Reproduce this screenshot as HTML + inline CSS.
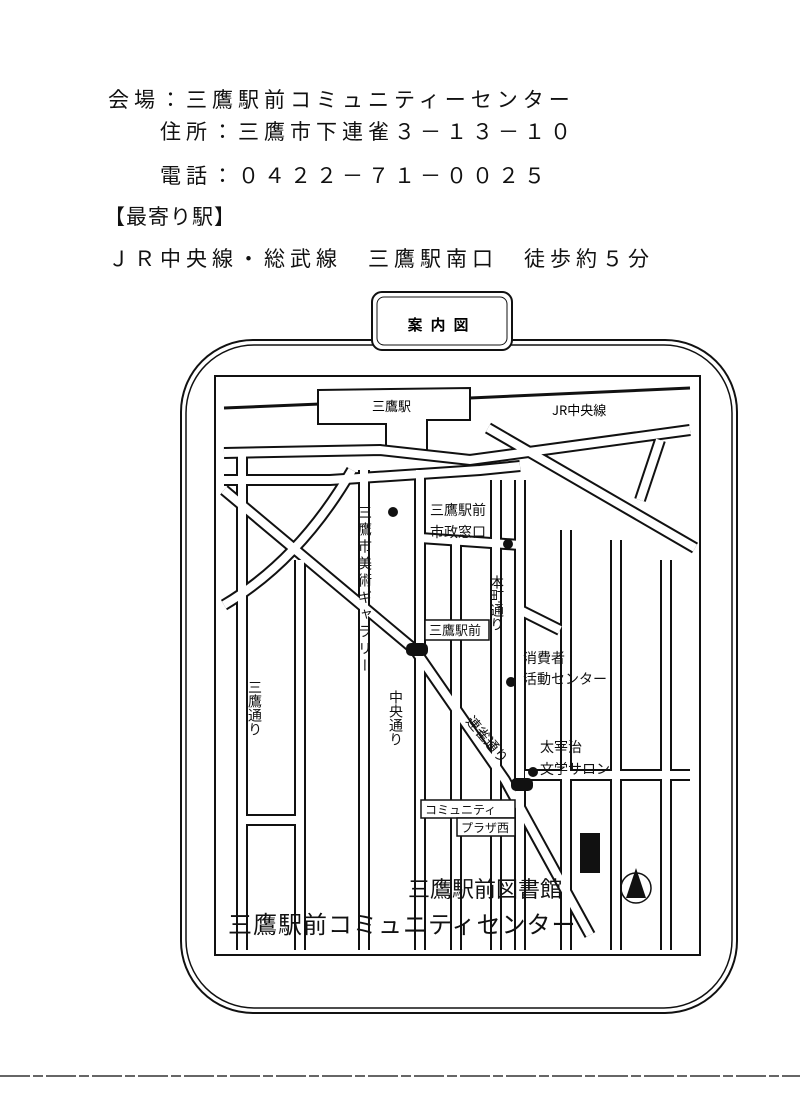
<!DOCTYPE html>
<html><head><meta charset="utf-8"><style>
html,body{margin:0;padding:0;background:#fff;}
body{width:800px;height:1100px;position:relative;overflow:hidden;font-family:"Liberation Sans","Noto Sans CJK JP",sans-serif;color:#111;}
.t{position:absolute;font-size:21px;white-space:nowrap;letter-spacing:5px;}
</style></head><body>
<div class="t" style="left:108px;top:84px;letter-spacing:5px;">会場：三鷹駅前コミュニティーセンター</div>
<div class="t" style="left:160px;top:116px;">住所：三鷹市下連雀３－１３－１０</div>
<div class="t" style="left:160px;top:160px;">電話：０４２２－７１－００２５</div>
<div class="t" style="left:104px;top:201px;letter-spacing:1px;">【最寄り駅】</div>
<div class="t" style="left:108px;top:243px;">ＪＲ中央線・総武線　三鷹駅南口　徒歩約５分</div>
<svg width="800" height="1100" style="position:absolute;left:0;top:0" xmlns="http://www.w3.org/2000/svg">
<rect x="181" y="340" width="556" height="673" rx="72" fill="none" stroke="#111" stroke-width="2"/>
<rect x="186" y="345" width="546" height="663" rx="68" fill="none" stroke="#111" stroke-width="1.5"/>
<rect x="372" y="292" width="140" height="58" rx="10" fill="#fff" stroke="#111" stroke-width="2"/>
<rect x="377" y="297" width="130" height="48" rx="7" fill="none" stroke="#111" stroke-width="1"/>
<text x="442" y="330" font-size="15" font-weight="bold" text-anchor="middle" font-family="Noto Sans CJK JP,sans-serif" letter-spacing="8">案内図</text>
<rect x="215" y="376" width="485" height="579" fill="none" stroke="#111" stroke-width="2"/>
<line x1="224" y1="408" x2="320" y2="404" stroke="#111" stroke-width="3"/>
<line x1="470" y1="398" x2="690" y2="388" stroke="#111" stroke-width="3"/>
<path d="M318 390 L470 388 L470 420 L427 420 L427 455 L386 455 L386 424 L318 424 Z" fill="#fff" stroke="#111" stroke-width="2"/>
<text x="372" y="411" font-size="13" font-family="Noto Sans CJK JP,sans-serif">三鷹駅</text>
<text x="552" y="415" font-size="13" font-family="Noto Sans CJK JP,sans-serif">JR中央線</text>
<g fill="none" stroke-linecap="butt">
<g stroke="#111" stroke-width="12">
<path d="M224 453 L380 450 L470 460 L690 430"/>
<path d="M224 480 L330 480 L480 470 L520 466"/>
<path d="M488 428 L695 548"/>
<path d="M224 490 L415 650 L505 780 L590 935"/>
<path d="M352 470 Q300 560 224 605"/>
<path d="M242 455 L242 950"/><path d="M300 560 L300 950"/><path d="M364 470 L364 950"/>
<path d="M420 470 L420 950"/><path d="M456 540 L456 950"/><path d="M496 480 L496 950"/>
<path d="M520 480 L520 950"/><path d="M566 530 L566 950"/><path d="M616 540 L616 950"/>
<path d="M666 560 L666 950"/><path d="M420 538 L520 545"/><path d="M520 610 L560 630"/>
<path d="M525 775 L690 775"/><path d="M242 820 L300 820"/><path d="M660 440 L640 500"/>
</g>
<g stroke="#fff" stroke-width="8">
<path d="M224 453 L380 450 L470 460 L690 430"/>
<path d="M224 480 L330 480 L480 470 L520 466"/>
<path d="M488 428 L695 548"/>
<path d="M224 490 L415 650 L505 780 L590 935"/>
<path d="M352 470 Q300 560 224 605"/>
<path d="M242 455 L242 950"/><path d="M300 560 L300 950"/><path d="M364 470 L364 950"/>
<path d="M420 470 L420 950"/><path d="M456 540 L456 950"/><path d="M496 480 L496 950"/>
<path d="M520 480 L520 950"/><path d="M566 530 L566 950"/><path d="M616 540 L616 950"/>
<path d="M666 560 L666 950"/><path d="M420 538 L520 545"/><path d="M520 610 L560 630"/>
<path d="M525 775 L690 775"/><path d="M242 820 L300 820"/><path d="M660 440 L640 500"/>
</g>
</g>
<g font-family="Noto Sans CJK JP,sans-serif" font-size="14" fill="#111">
<text x="365" y="505" writing-mode="tb" letter-spacing="3">三鷹市美術ギャラリー</text>
<circle cx="393" cy="512" r="5"/>
<text x="430" y="515">三鷹駅前</text><text x="430" y="537">市政窓口</text>
<circle cx="508" cy="544" r="5"/>
<text x="497" y="575" writing-mode="tb">本町通り</text>
<rect x="425" y="620" width="64" height="20" fill="#fff" stroke="#111" stroke-width="1.5"/>
<text x="429" y="635" font-size="13">三鷹駅前</text>
<rect x="406" y="643" width="22" height="13" rx="5" fill="#111"/>
<text x="523" y="663">消費者</text><text x="523" y="684">活動センター</text>
<circle cx="511" cy="682" r="5"/>
<text x="255" y="680" writing-mode="tb">三鷹通り</text>
<text x="396" y="690" writing-mode="tb">中央通り</text>
<text x="445" y="735" transform="rotate(50 470 750)">連雀通り</text>
<text x="540" y="752">太宰治</text><text x="540" y="774">文学サロン</text>
<circle cx="533" cy="772" r="5"/>
<rect x="511" y="778" width="22" height="13" rx="5" fill="#111"/>
<rect x="421" y="800" width="94" height="18" fill="#fff" stroke="#111" stroke-width="1.5"/>
<rect x="457" y="818" width="58" height="18" fill="#fff" stroke="#111" stroke-width="1.5"/>
<text x="425" y="814" font-size="12">コミュニティ</text><text x="461" y="832" font-size="12">プラザ西</text>
<rect x="580" y="833" width="20" height="40" fill="#111"/>
<text x="408" y="897" font-size="22">三鷹駅前図書館</text>
<text x="228" y="933" font-size="24" letter-spacing="1">三鷹駅前コミュニティセンター</text>
</g>
<circle cx="636" cy="888" r="15" fill="none" stroke="#111" stroke-width="1.5"/>
<path d="M636 868 L626 898 L646 898 Z" fill="#111"/>
<line x1="0" y1="1076" x2="800" y2="1076" stroke="#333" stroke-width="1.5" stroke-dasharray="30 3 10 3"/>
</svg>
</body></html>
